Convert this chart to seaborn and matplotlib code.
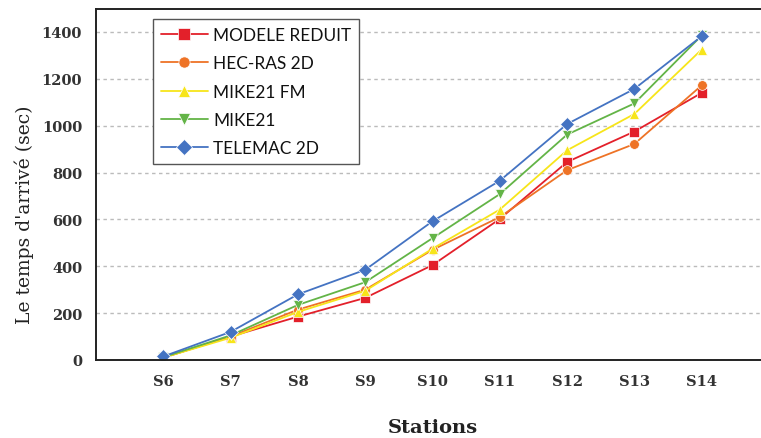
import matplotlib
matplotlib.use("Agg")
import matplotlib.pyplot as plt
import seaborn as sns
import pandas as pd

stations = ["S6", "S7", "S8", "S9", "S10", "S11", "S12", "S13", "S14"]
series_names = ["MODELE REDUIT", "HEC-RAS 2D", "MIKE21 FM", "MIKE21", "TELEMAC 2D"]
modele_reduit = [10, 100, 185, 265, 405, 602, 845, 975, 1140]
hec_ras_2d = [10, 100, 215, 300, 470, 610, 810, 922, 1172]
mike21_fm = [10, 95, 205, 295, 475, 642, 895, 1050, 1325]
mike21 = [12, 105, 235, 332, 520, 708, 962, 1095, 1385]
telemac_2d = [15, 120, 280, 385, 592, 765, 1007, 1157, 1382]
y_ticks = [0, 200, 400, 600, 800, 1000, 1200, 1400]

colors = ["#E3202A", "#EE7326", "#F7E51A", "#63B447", "#4473C2"]
markers = ["s", "o", "^", "v", "D"]

values = [modele_reduit, hec_ras_2d, mike21_fm, mike21, telemac_2d]
rows = []
for name, vals in zip(series_names, values):
    for st, v in zip(stations, vals):
        rows.append({"Station": st, "Temps": v, "Serie": name})
df = pd.DataFrame(rows)

sns.set_style("white")
plt.rcParams["font.family"] = ["DejaVu Serif"]

fig = plt.figure(figsize=(7.61, 4.39), dpi=100)
ax = fig.add_axes([96 / 761, 1 - 361 / 439, (769 - 96) / 761, (361 - 9.5) / 439])

ax.yaxis.grid(True, linestyle=(0, (2.5, 2.5)), color="#bbbbbb", linewidth=1.0)
ax.set_axisbelow(True)

sns.lineplot(
    data=df, x="Station", y="Temps", hue="Serie", style="Serie",
    hue_order=series_names, style_order=series_names,
    palette=dict(zip(series_names, colors)),
    markers=dict(zip(series_names, markers)),
    dashes=False, markersize=7, linewidth=1.3, markeredgewidth=0.5,
    sort=False, ax=ax, legend=True,
)

ax.set_xlim(-1, 9)
ax.set_ylim(0, 1500)
ax.set_yticks(y_ticks)
ax.set_yticklabels([str(t) for t in y_ticks])

for side in ["left", "bottom", "top"]:
    ax.spines[side].set_visible(True)
    ax.spines[side].set_color("#222222")
    ax.spines[side].set_linewidth(1.4)
ax.spines["right"].set_visible(False)

ax.tick_params(axis="both", direction="in", length=6, width=1.4, color="#222222",
               labelsize=10.5, labelcolor="#333333", pad=6)
ax.tick_params(axis="x", pad=10)
ax.tick_params(axis="y", pad=10)
for lab in ax.get_xticklabels() + ax.get_yticklabels():
    lab.set_fontweight("semibold")

ax.set_xlabel("Stations", fontsize=14, fontweight="bold", color="#222222", labelpad=22)
ax.set_ylabel("Le temps d'arrivé (sec)", fontsize=13.5, color="#222222")
ax.yaxis.set_label_coords(-0.092, (361 - 215) / 351.5)

leg = ax.legend(
    loc="upper left", bbox_to_anchor=((153 - 96) / 673, 1 - (20 - 9.5) / 351.5),
    frameon=True, fancybox=False, edgecolor="#555555", framealpha=1,
    prop={"family": "Lato", "size": 12.4}, handlelength=2.75, handletextpad=0.3,
    labelspacing=0.72, borderpad=0.45, borderaxespad=0, markerscale=1.15,
)
leg.get_frame().set_linewidth(1.0)
for t in leg.get_texts():
    t.set_color("#111111")

fig.savefig("out.png", dpi=100)
